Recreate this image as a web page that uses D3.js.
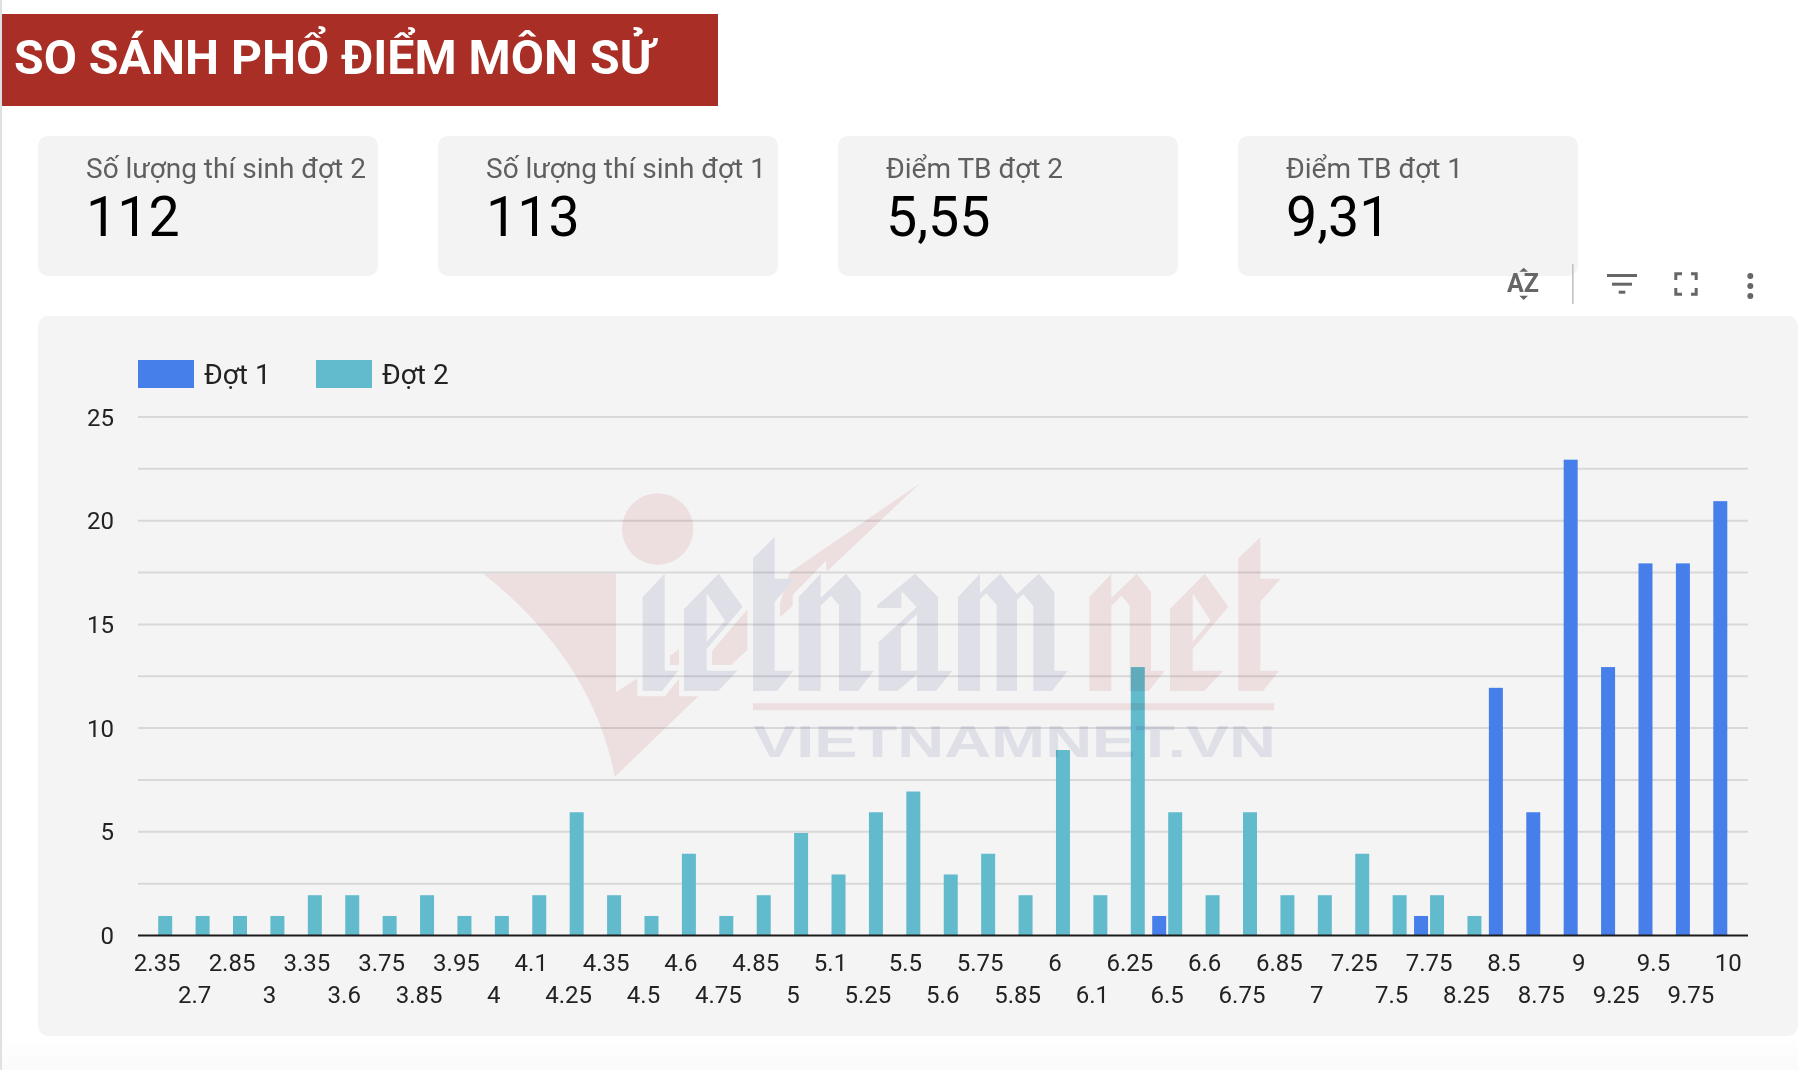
<!DOCTYPE html>
<html>
<head>
<meta charset="utf-8">
<script src="https://cdn.jsdelivr.net/npm/d3@7"></script>
<style>
  html, body { margin: 0; padding: 0; background: #fff; }
  svg { display: block; font-family: Roboto, sans-serif; }
</style>
</head>
<body>
<svg id="chart" width="1810" height="1070"></svg>
<script>
// Data
var titleText = "SO SÁNH PHỔ ĐIỂM MÔN SỬ";
var cardLabels = ["Số lượng thí sinh đợt 2", "Số lượng thí sinh đợt 1", "Điểm TB đợt 2", "Điểm TB đợt 1"];
var cardValues = ["112", "113", "5,55", "9,31"];
var seriesNames = ["Đợt 1", "Đợt 2"];
var seriesColors = ["#467eea", "#62bacd"];
var scores = ["2.35", "2.7", "2.85", "3", "3.35", "3.6", "3.75", "3.85", "3.95", "4", "4.1", "4.25", "4.35", "4.5", "4.6",
  "4.75", "4.85", "5", "5.1", "5.25", "5.5", "5.6", "5.75", "5.85", "6", "6.1", "6.25", "6.5", "6.6", "6.75", "6.85", "7",
  "7.25", "7.5", "7.75", "8.25", "8.5", "8.75", "9", "9.25", "9.5", "9.75", "10"];
var dot1 = [0, 0, 0, 0, 0, 0, 0, 0, 0, 0, 0, 0, 0, 0, 0,
  0, 0, 0, 0, 0, 0, 0, 0, 0, 0, 0, 0, 1, 0, 0, 0, 0,
  0, 0, 1, 0, 12, 6, 23, 13, 18, 18, 21];
var dot2 = [1, 1, 1, 1, 2, 2, 1, 2, 1, 1, 2, 6, 2, 1, 4,
  1, 2, 5, 3, 6, 7, 3, 4, 2, 9, 2, 13, 6, 2, 6, 2, 2,
  4, 2, 2, 1, 0, 0, 0, 0, 0, 0, 0];
var yTicks = [0, 5, 10, 15, 20, 25];
var gridValues = [2.5, 5, 7.5, 10, 12.5, 15, 17.5, 20, 22.5, 25];

var svg = d3.select("#chart");
var panelBg = "#f4f4f4";

// Faint strip on the left and the fade at the bottom of the screenshot
var defs = svg.append("defs");
var fade = defs.append("linearGradient").attr("id", "fade").attr("x1", 0).attr("x2", 0).attr("y1", 0).attr("y2", 1);
fade.append("stop").attr("offset", 0).attr("stop-color", "#ffffff");
fade.append("stop").attr("offset", 1).attr("stop-color", "#fafafa");
svg.append("rect").attr("x", 0).attr("y", 1036).attr("width", 1798).attr("height", 34).attr("fill", "url(#fade)");
svg.append("rect").attr("x", 0).attr("y", 0).attr("width", 2).attr("height", 1070).attr("fill", "#dfe0e6");

// Title banner
svg.append("rect").attr("x", 2).attr("y", 14).attr("width", 716).attr("height", 92).attr("fill", "#a82e26");
svg.append("text").attr("x", 14).attr("y", 74)
  .attr("fill", "#fff").attr("font-size", 48.2).attr("font-weight", 700)
  .text(titleText);

// Score cards
var cards = svg.selectAll(".card").data(cardLabels).enter().append("g")
  .attr("class", "card")
  .attr("transform", (d, i) => `translate(${38 + i * 400},136)`);
cards.append("rect").attr("width", 340).attr("height", 140).attr("rx", 10).attr("fill", "#f3f3f3");
cards.append("text").attr("x", 48).attr("y", 42)
  .attr("fill", "#5f5f5f").attr("font-size", 28)
  .text(d => d);
cards.append("text").attr("x", 48).attr("y", 100)
  .attr("fill", "#000").attr("font-size", 55.5)
  .text((d, i) => cardValues[i]);

// Chart panel
svg.append("rect").attr("x", 38).attr("y", 316).attr("width", 1760).attr("height", 720).attr("rx", 10).attr("fill", panelBg);

var margin = { left: 138, right: 1748, top: 417, bottom: 935.5 };
var x = d3.scaleBand().domain(scores).range([margin.left + 0.5, margin.right - 1]);
var xInner = d3.scaleBand().domain(seriesNames).range([0, x.bandwidth()]).paddingInner(0.125).paddingOuter(0.2325);
var y = d3.scaleLinear().domain([0, 25]).range([margin.bottom, margin.top]);
var barTopInset = 1.2; // bars stop a touch under the gridline level in the original

// Gridlines
svg.append("g").selectAll("line").data(gridValues).enter().append("line")
  .attr("x1", margin.left).attr("x2", margin.right)
  .attr("y1", d => y(d)).attr("y2", d => y(d))
  .attr("stroke", "#d8d8d8").attr("stroke-width", 2);

// Bars, first series then second
[dot1, dot2].forEach((values, s) => {
  svg.append("g").selectAll("rect")
    .data(values.map((v, i) => ({ score: scores[i], value: v })).filter(d => d.value > 0))
    .enter().append("rect")
    .attr("x", d => x(d.score) + xInner(seriesNames[s]))
    .attr("width", xInner.bandwidth())
    .attr("y", d => y(d.value) + barTopInset)
    .attr("height", d => y(0) - y(d.value) - barTopInset)
    .attr("fill", seriesColors[s]);
});

// Axis base line
svg.append("line").attr("x1", margin.left).attr("x2", margin.right)
  .attr("y1", y(0)).attr("y2", y(0))
  .attr("stroke", "#1c1c1c").attr("stroke-width", 2);

// Y axis labels
var yAxis = svg.append("g").attr("transform", `translate(${margin.left},0.5)`)
  .call(d3.axisLeft(y).tickValues(yTicks).tickSize(0).tickPadding(24));
yAxis.select(".domain").remove();
yAxis.selectAll("text").attr("font-size", 24).attr("font-family", "Roboto").attr("fill", "#222");

// X axis labels, staggered on two rows like the original
var xAxis = svg.append("g").attr("transform", `translate(0,${margin.bottom})`)
  .call(d3.axisBottom(x).tickSize(0));
xAxis.select(".domain").remove();
xAxis.selectAll("text")
  .attr("font-size", 24).attr("font-family", "Roboto").attr("fill", "#222")
  .attr("dy", null)
  .attr("y", (d, i) => i % 2 === 0 ? 35 : 67);

// Legend
var legend = svg.append("g").selectAll("g").data(seriesNames).enter().append("g")
  .attr("transform", (d, i) => `translate(${138 + i * 178},360)`);
legend.append("rect").attr("width", 56).attr("height", 28).attr("fill", (d, i) => seriesColors[i]);
legend.append("text").attr("x", 66).attr("y", 24)
  .attr("fill", "#222").attr("font-size", 28)
  .text(d => d);

// Toolbar icons above the panel
var iconColor = "#666";
var toolbar = svg.append("g").attr("transform", "translate(1490,255)");
toolbar.append("text").attr("x", 17).attr("y", 37)
  .attr("fill", iconColor).attr("font-size", 25).attr("font-weight", 700).text("AZ");
toolbar.append("path").attr("fill", iconColor)
  .attr("d", "M33.7,12.7 L29.3,16.7 L38,16.7 Z M29.3,40.7 L38,40.7 L33.7,45 Z");
toolbar.append("rect").attr("x", 82).attr("y", 9).attr("width", 1.6).attr("height", 40).attr("fill", "#c2c2c2");
[[117, 30, 19], [122, 20, 27.7], [128.7, 6.6, 35.7]].forEach(b => {
  toolbar.append("rect").attr("x", b[0]).attr("y", b[2]).attr("width", b[1]).attr("height", 3).attr("fill", iconColor);
});
toolbar.append("path").attr("fill", "none").attr("stroke", iconColor).attr("stroke-width", 3)
  .attr("d", "M185.8,25 V18.8 H192 M201,18.8 H206.2 V25 M206.2,33 V39.2 H201 M192,39.2 H185.8 V33");
[21, 31, 41].forEach(cy => {
  toolbar.append("circle").attr("cx", 260.3).attr("cy", cy).attr("r", 3).attr("fill", iconColor);
});

// Watermark drawn over the chart, traced at 3x
var pink = "#f8e9e9", slate = "#e9eaf2";
var watermark = svg.append("g").style("mix-blend-mode", "multiply");
function poly(group, fill, pts) {
  group.append("path").attr("fill", fill).attr("fill-rule", "evenodd").attr("d", pts);
}
var wmLeft = watermark.append("g").attr("transform", "translate(470,480) scale(0.33333)");
wmLeft.append("circle").attr("cx", 563).attr("cy", 147).attr("r", 107).attr("fill", pink);
poly(wmLeft, pink, "M40,281 L438,281 L438,637 L502,595 L502,649 L585,649 L627,597 L627,649 L685,649 L434,891 Q370,544 40,281 Z");
poly(wmLeft, pink, "M600,527 L627,508 L627,555 L600,555 Z");
poly(wmLeft, pink, "M726,513 L832,388 L832,510 L783,555 L726,555 Z");
poly(wmLeft, pink, "M1350,10 L960,277 L930,370 L930,412 L968,377 L968,345 L1068,242 L1070,275 Z");
poly(wmLeft, pink, "M849,670 H2412 V691 H849 Z");
poly(wmLeft, slate, "M518,351 L584,281 L584,572 L625,572 L576,633 L518,633 Z");
poly(wmLeft, slate, "M642,387 L746,281 L818,380 L710,507 L710,572 L802,572 L745,633 L642,633 Z M710,340 L765,422 L710,485 Z");
poly(wmLeft, slate, "M849,235 L914,171 L914,296 L975,296 L914,365 L914,572 L970,572 L921,633 L849,633 Z");
poly(wmLeft, slate, "M986,351 L1052,281 L1052,354 L1128,281 L1172,336 L1172,572 L1212,572 L1164,633 L1107,633 L1107,375 L1083,347 L1052,377 L1052,633 L986,633 Z");
var wmRight = watermark.append("g").attr("transform", "translate(870,480) scale(0.33333)");
poly(wmRight, slate, "M22,375 L135,281 L204,351 L204,572 L247,572 L198,633 L141,633 L141,583 L82,633 L26,633 L26,486 L140,381 L94,333 L94,384 L22,384 Z M93,445 L141,403 L141,572 L93,572 Z");
poly(wmRight, slate, "M264,351 L330,281 L330,340 L391,281 L441,342 L506,281 L553,336 L553,572 L594,572 L546,633 L490,633 L490,377 L459,342 L441,360 L441,633 L380,633 L380,375 L349,340 L330,358 L330,633 L264,633 Z");
poly(wmRight, pink, "M658,351 L724,281 L724,354 L800,281 L843,336 L843,572 L884,572 L836,633 L779,633 L779,377 L755,347 L724,377 L724,633 L658,633 Z");
poly(wmRight, pink, "M900,387 L1004,281 L1075,380 L968,507 L968,572 L1060,572 L1003,633 L900,633 Z M968,340 L1022,422 L968,485 Z");
poly(wmRight, pink, "M1105,235 L1171,172 L1171,296 L1232,296 L1171,365 L1171,572 L1228,572 L1179,633 L1105,633 Z");
// The site name is cut off at the top in the original
defs.append("clipPath").attr("id", "wmClip").append("rect")
  .attr("x", 740).attr("y", 726).attr("width", 550).attr("height", 40);
watermark.append("text").attr("x", 753).attr("y", 757)
  .attr("clip-path", "url(#wmClip)")
  .attr("font-family", "Liberation Sans").attr("font-weight", 700).attr("font-size", 47)
  .attr("textLength", 523).attr("lengthAdjust", "spacingAndGlyphs")
  .attr("fill", slate).text("VIETNAMNET.VN");
</script>
</body>
</html>
